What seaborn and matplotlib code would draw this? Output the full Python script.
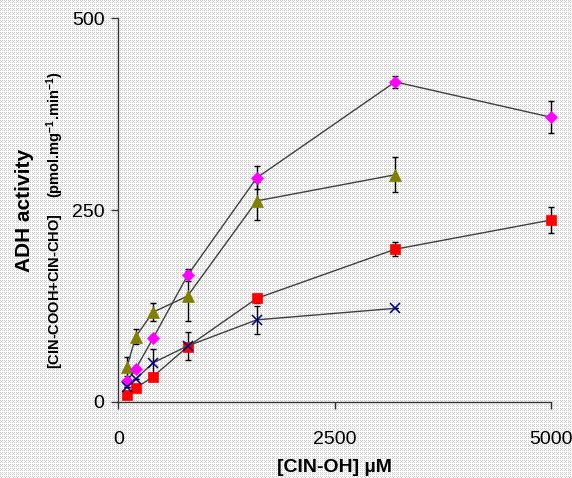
import numpy as np
import pandas as pd
import matplotlib
matplotlib.use("Agg")
import matplotlib.pyplot as plt
import seaborn as sns

sns.set_style("ticks")
plt.rcParams['font.family'] = ['Liberation Sans', 'DejaVu Sans']
plt.rcParams['mathtext.default'] = 'regular'
plt.rcParams['text.color'] = 'black'
plt.rcParams['axes.labelcolor'] = 'black'


# Substrate concentrations (uM)
conc = [100, 200, 400, 800, 1600, 3200, 5000]

# Series (mean and error)
magenta_y = [27, 43, 83, 165, 292, 417, 371]
magenta_err = [3, 3, 0, 8, 15, 8, 21]

olive_y = [46, 85, 117, 138, 262, 296]
olive_err = [12, 10, 12, 33, 25, 23]

red_y = [9, 18, 33, 72, 135, 199, 237]
red_err = [0, 0, 0, 0, 6, 9, 17]

blue_y = [20, 30, 51, 73, 107, 122]
blue_err = [0, 0, 18, 18, 18, 0]

x_ticks = [0, 2500, 5000]
y_ticks = [0, 250, 500]


def series_df(y, err):
    # Small table for one series
    return pd.DataFrame({"conc": conc[:len(y)], "activity": y, "err": err})


series = [
    # (data, marker, colour, marker size)
    (series_df(red_y, red_err), "s", "#ff0000", 6.5),
    (series_df(olive_y, olive_err), "^", "#808000", 8),
    (series_df(magenta_y, magenta_err), "D", "#ff00ff", 6),
    (series_df(blue_y, blue_err), "x", "#000080", 7.5),
]

fig = plt.figure(figsize=(5.72, 4.78), dpi=100)
fig.patch.set_facecolor("white")

# Excel-like dotted background: tiny grey dots on white
W, H = 572, 478
rows, cols = np.mgrid[0:H, 0:W]
dots = ((rows % 2 == 0) & (cols % 2 == 0)) | ((rows % 4 == 1) & (cols % 4 == 1))
bg = np.where(dots, 0.8, 1.0)
fig.figimage(np.dstack([bg, bg, bg]), xo=0, yo=0, zorder=-10)

ax = fig.add_axes([0.207, 0.159, 0.756, 0.803])
ax.set_facecolor("none")

for df, marker, colour, ms in series:
    ax.errorbar(df["conc"], df["activity"], yerr=df["err"], fmt="none",
                ecolor="black", elinewidth=1, capsize=2.5, capthick=1,
                clip_on=False, zorder=2)
    sns.lineplot(data=df, x="conc", y="activity", ax=ax, color="#404040",
                 linewidth=1, marker=marker, markersize=ms,
                 markerfacecolor=colour, markeredgecolor=colour,
                 markeredgewidth=1.1 if marker == "x" else 0.5,
                 clip_on=False, zorder=3)

ax.set_xlim(0, 5000)
ax.set_ylim(0, 500)
ax.set_xticks(x_ticks)
ax.set_yticks(y_ticks)
ax.tick_params(axis="both", direction="out", length=5, width=1, colors="#333333",
               labelsize=14, labelcolor="black")
ax.tick_params(axis="x", pad=16)
ax.tick_params(axis="y", pad=5)

sns.despine(ax=ax)
for side in ["left", "bottom"]:
    ax.spines[side].set_color("#333333")
    ax.spines[side].set_linewidth(1)

ax.set_xlabel("[CIN-OH] µM", fontsize=14, fontweight="bold", labelpad=8,
              color="black")
ax.set_ylabel("")

fig.text(25 / 572, 1 - 210 / 478, "ADH activity", rotation=90, fontsize=15,
         fontweight="bold", ha="center", va="center", color="black")
fig.text(55 / 572, 1 - 220 / 478,
         "[CIN-COOH+CIN-CHO]    (pmol.mg$^{-1}$.min$^{-1}$)",
         rotation=90, fontsize=10.5, fontweight="bold", ha="center", va="center",
         color="black")

fig.savefig("out.png", dpi=100)
